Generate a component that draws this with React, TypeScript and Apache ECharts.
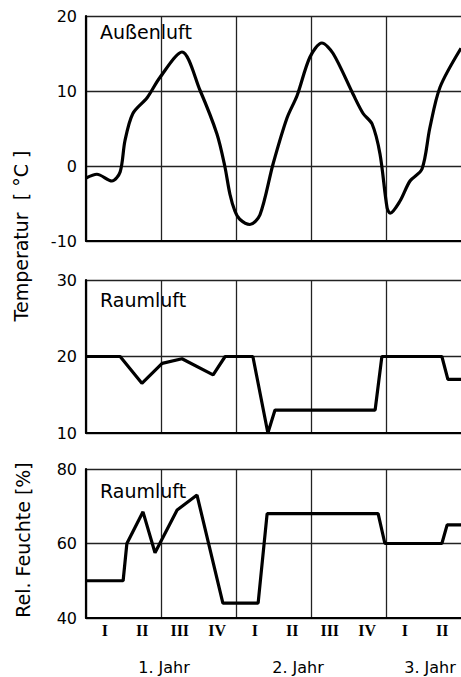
import React, { useEffect, useRef } from "react";
import * as echarts from "echarts";

// x values are in quarters (0 = start of year 1)
const quarterLabels = ["I", "II", "III", "IV", "I", "II", "III", "IV", "I", "II"];
const yearLabels = ["1. Jahr", "2. Jahr", "3. Jahr"];
const panelTitles = ["Außenluft", "Raumluft", "Raumluft"];
const yTitles = ["Temperatur  [ °C ]", "Rel. Feuchte [%]"];

const outdoorTemp: [number, number][] = [
  [0, -1.6], [0.29, -1.1], [0.69, -2.0], [0.91, -0.8], [1.04, 3.4], [1.25, 7.0],
  [1.63, 9.1], [1.97, 11.8], [2.56, 15.2], [3.04, 10.1], [3.49, 4.3], [3.7, 0.0],
  [3.84, -3.8], [3.97, -6.0], [4.1, -7.1], [4.37, -7.8], [4.64, -6.5], [4.99, 0.3],
  [5.36, 6.4], [5.63, 9.4], [5.97, 14.5], [6.29, 16.4], [6.59, 15.0], [7.12, 9.6],
  [7.39, 7.0], [7.63, 5.6], [7.84, 1.6], [8.03, -5.6], [8.11, -6.3], [8.37, -4.7],
  [8.64, -2.0], [8.96, -0.4], [9.17, 5.1], [9.44, 10.5], [10, 15.7],
];

const indoorTemp: [number, number][] = [
  [0, 20], [0.91, 20], [1.49, 16.5], [2.03, 19.1], [2.56, 19.7], [3.39, 17.6],
  [3.71, 20], [4.45, 20], [4.85, 10], [5.04, 13], [7.71, 13], [7.89, 20],
  [9.49, 20], [9.65, 17], [10, 17],
];

const indoorHumidity: [number, number][] = [
  [0, 50], [0.99, 50], [1.09, 60], [1.52, 68.5], [1.84, 57.5], [2.43, 69],
  [2.96, 73], [3.65, 44], [4.59, 44], [4.83, 68], [7.79, 68], [7.97, 60],
  [9.49, 60], [9.63, 65], [10, 65],
];

const yRanges = [
  { min: -10, max: 20, interval: 10 },
  { min: 10, max: 30, interval: 10 },
  { min: 40, max: 80, interval: 20 },
];

const FONT = "DejaVu Sans";

export default function App() {
  const ref = useRef<HTMLDivElement>(null);
  useEffect(() => {
    document.body.style.margin = "0";
    const chart = echarts.init(ref.current!, undefined, { renderer: "svg" });
    const grids = [
      { left: 86, top: 16, width: 375, height: 225 },
      { left: 86, top: 280, width: 375, height: 153 },
      { left: 86, top: 469, width: 375, height: 149 },
    ];
    const xAxes: any[] = grids.map((_, i) => ({
      type: "value",
      gridIndex: i,
      min: 0,
      max: 10,
      interval: 2,
      position: "bottom",
      axisLine: { show: true, onZero: false, lineStyle: { color: "#000", width: 2 } },
      axisTick: { show: false },
      axisLabel: { show: false },
      splitLine: { show: true, showMaxLine: false, lineStyle: { color: "#222", width: 1.3 } },
    }));
    xAxes.push({
      type: "category",
      gridIndex: 2,
      position: "bottom",
      data: quarterLabels,
      boundaryGap: true,
      axisLine: { show: false },
      axisTick: { show: false },
      splitLine: { show: false },
      axisLabel: {
        show: true,
        margin: 4,
        color: "#000",
        fontFamily: "Liberation Serif",
        fontWeight: "bold",
        fontSize: 16,
      },
    });
    const yAxes = grids.map((_, i) => ({
      type: "value",
      gridIndex: i,
      min: yRanges[i].min,
      max: yRanges[i].max,
      interval: yRanges[i].interval,
      axisLine: { show: true, lineStyle: { color: "#000", width: 2.2 } },
      axisTick: { show: false },
      axisLabel: { color: "#000", fontFamily: FONT, fontSize: 16, margin: 9 },
      splitLine: { show: true, lineStyle: { color: "#222", width: 1.3 } },
    }));
    const lineStyle = { color: "#000", width: 3.2 };
    const titleCenters = [32, 300, 491];
    const graphic: any[] = panelTitles.map((t, i) => ({
      type: "text",
      x: 100,
      y: titleCenters[i],
      style: { text: t, fill: "#000", font: `19px "${FONT}"`, verticalAlign: "middle" },
    }));
    graphic.push({
      type: "text",
      x: 21,
      y: 236,
      rotation: Math.PI / 2,
      style: { text: yTitles[0], fill: "#000", font: `19px "${FONT}"`, align: "center", verticalAlign: "middle" },
    });
    graphic.push({
      type: "text",
      x: 23,
      y: 540,
      rotation: Math.PI / 2,
      style: { text: yTitles[1], fill: "#000", font: `19px "${FONT}"`, align: "center", verticalAlign: "middle" },
    });
    const yearX = [164, 298, 430];
    yearLabels.forEach((t, i) =>
      graphic.push({
        type: "text",
        x: yearX[i],
        y: 667,
        style: { text: t, fill: "#000", font: `16px "${FONT}"`, align: "center", verticalAlign: "middle" },
      })
    );
    chart.setOption({
      animation: false,
      backgroundColor: "#fff",
      grid: grids,
      xAxis: xAxes,
      yAxis: yAxes,
      graphic,
      series: [
        { type: "line", xAxisIndex: 0, yAxisIndex: 0, data: outdoorTemp, smooth: 0.3, showSymbol: false, lineStyle },
        { type: "line", xAxisIndex: 1, yAxisIndex: 1, data: indoorTemp, showSymbol: false, lineStyle },
        { type: "line", xAxisIndex: 2, yAxisIndex: 2, data: indoorHumidity, showSymbol: false, lineStyle },
      ],
    });
    return () => chart.dispose();
  }, []);
  return <div ref={ref} style={{ width: 461, height: 677 }} />;
}
